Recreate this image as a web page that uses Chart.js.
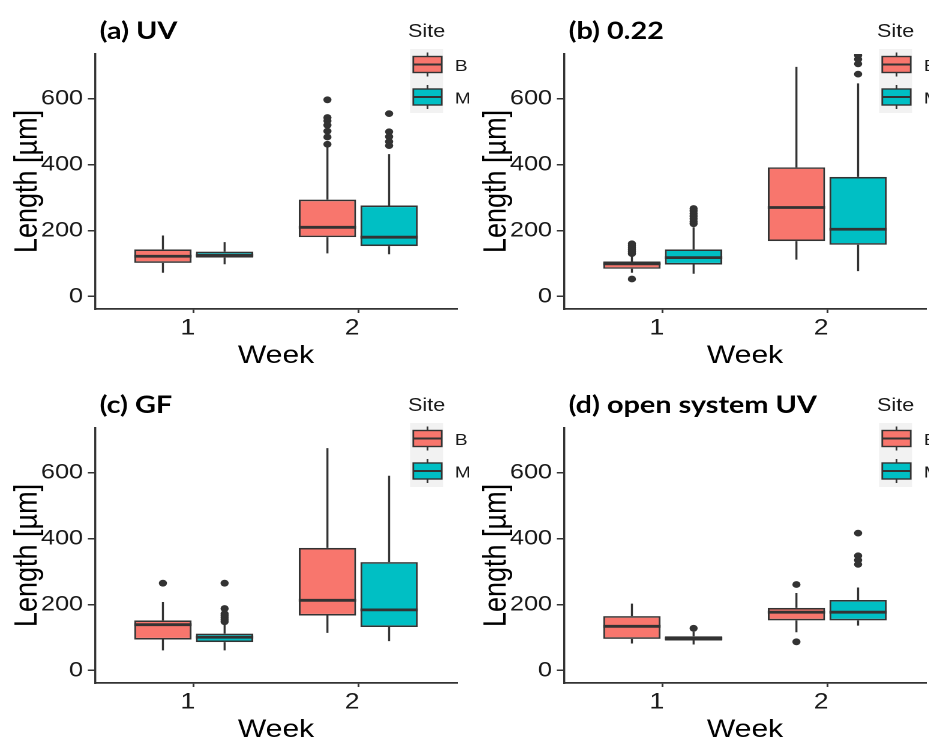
<!DOCTYPE html>
<html>
<head>
<meta charset="utf-8">
<script src="https://cdn.jsdelivr.net/npm/chart.js@4.4.1/dist/chart.umd.min.js"></script>
<style>
  html, body { margin: 0; padding: 0; background: #fff; }
  body { width: 929px; height: 742px; overflow: hidden; position: relative; }
  /* the source figure is stretched ~1.2x horizontally, so each panel is too */
  .panel { position: absolute; width: 391px; height: 374px; transform: scaleX(1.2); transform-origin: 0 0; }
</style>
</head>
<body>
<div class="panel" style="left:0;top:0"><canvas id="c0"></canvas></div>
<div class="panel" style="left:469px;top:0"><canvas id="c1"></canvas></div>
<div class="panel" style="left:0;top:374px"><canvas id="c2"></canvas></div>
<div class="panel" style="left:469px;top:374px"><canvas id="c3"></canvas></div>
<script>
// ------------------- DATA -------------------
const weeks = [1, 2];
const sites = ['B', 'M'];
const siteColors = ['#F8766D', '#00BFC4'];
const panelTitles = ['(a) UV', '(b) 0.22', '(c) GF', '(d) open system UV'];
const yTicks = [0, 200, 400, 600];

// per week: [lower whisker, Q1, median, Q3, upper whisker]
const uvB = [[72, 102, 122, 143, 185], [131, 180, 210, 294, 454]];
const uvM = [[98, 118, 125, 136, 165], [128, 153, 180, 276, 432]];
const uvOutB = [[], [597, 543, 533, 520, 502, 484, 462]];
const uvOutM = [[], [555, 500, 485, 470, 458]];

const f022B = [[72, 84, 99, 106, 124], [112, 168, 270, 392, 697]];
const f022M = [[69, 97, 118, 143, 210], [77, 157, 204, 363, 647]];
const f022OutB = [[53, 130, 136, 142, 148, 154, 160], []];
const f022OutM = [[221, 228, 236, 244, 252, 260, 267], [675, 706, 720, 732]];

const gfB = [[61, 94, 139, 152, 208], [114, 167, 213, 372, 675]];
const gfM = [[61, 86, 101, 112, 140], [89, 132, 184, 329, 591]];
const gfOutB = [[265], []];
const gfOutM = [[148, 154, 160, 166, 172, 188, 265], []];

const openB = [[82, 96, 134, 165, 203], [116, 152, 177, 190, 235]];
const openM = [[79, 91, 97, 104, 118], [136, 152, 177, 214, 252]];
const openOutB = [[], [261, 87]];
const openOutM = [[128], [417, 348, 335, 322]];

const panelStats = [[uvB, uvM], [f022B, f022M], [gfB, gfM], [openB, openM]];
const panelOutliers = [[uvOutB, uvOutM], [f022OutB, f022OutM], [gfOutB, gfOutM], [openOutB, openOutM]];

// ------------------- STYLE -------------------
const DARK = '#333333';
const TEXT = '#1a1a1a';
const CAT_PCT = 0.75;
const BAR_PCT = 0.93;
const DODGE = CAT_PCT / 4;   // centre of each box, in week units, from the tick

// whiskers, medians, legend and panel title
const boxPlugin = {
  id: 'boxWhiskers',
  beforeDatasetsDraw(chart) {
    const ctx = chart.ctx, y = chart.scales.y;
    ctx.save();
    ctx.strokeStyle = DARK;
    ctx.lineWidth = 1.7;
    chart.data.datasets.forEach((ds, i) => {
      if (!ds.stats) return;
      chart.getDatasetMeta(i).data.forEach((el, j) => {
        const st = ds.stats[j];
        ctx.beginPath();
        ctx.moveTo(el.x, y.getPixelForValue(st[0]));
        ctx.lineTo(el.x, y.getPixelForValue(st[1]));
        ctx.moveTo(el.x, y.getPixelForValue(st[3]));
        ctx.lineTo(el.x, y.getPixelForValue(st[4]));
        ctx.stroke();
      });
    });
    ctx.restore();
  },
  afterDatasetsDraw(chart) {
    const ctx = chart.ctx, y = chart.scales.y;
    ctx.save();
    ctx.strokeStyle = DARK;
    ctx.lineWidth = 2.8;
    chart.data.datasets.forEach((ds, i) => {
      if (!ds.stats) return;
      chart.getDatasetMeta(i).data.forEach((el, j) => {
        const py = y.getPixelForValue(ds.stats[j][2]);
        ctx.beginPath();
        ctx.moveTo(el.x - el.width / 2, py);
        ctx.lineTo(el.x + el.width / 2, py);
        ctx.stroke();
      });
    });
    ctx.restore();
  },
  afterDraw(chart, args, opts) {
    const ctx = chart.ctx;
    ctx.save();
    // panel title
    ctx.fillStyle = '#000';
    ctx.font = 'bold 24px Lato';
    ctx.textBaseline = 'alphabetic';
    ctx.textAlign = 'left';
    ctx.fillText(opts.title, 83, 39);

    // legend
    ctx.fillStyle = TEXT;
    ctx.font = '18px "Liberation Sans"';
    ctx.textBaseline = 'middle';
    ctx.fillText('Site', 340, 32);
    ctx.fillStyle = '#F2F2F2';
    ctx.fillRect(341.7, 49, 27.5, 64);
    const keyY = [64.5, 97];
    sites.forEach((s, i) => {
      const cy = keyY[i];
      ctx.strokeStyle = DARK;
      ctx.lineWidth = 1.4;
      ctx.beginPath();
      ctx.moveTo(356.25, cy - 12); ctx.lineTo(356.25, cy - 8);
      ctx.moveTo(356.25, cy + 8); ctx.lineTo(356.25, cy + 12);
      ctx.stroke();
      ctx.fillStyle = siteColors[i];
      ctx.fillRect(344.4, cy - 8, 23.7, 16);
      ctx.strokeRect(344.4, cy - 8, 23.7, 16);
      ctx.lineWidth = 2;
      ctx.beginPath();
      ctx.moveTo(344.4, cy); ctx.lineTo(368.1, cy);
      ctx.stroke();
      ctx.fillStyle = TEXT;
      ctx.font = '16px "Liberation Sans"';
      ctx.fillText(s, 379, cy + 2);
    });
    ctx.restore();
  }
};

function makeChart(id, p) {
  const stats = panelStats[p];
  const outs = panelOutliers[p];
  const datasets = [];

  sites.forEach((s, si) => {
    datasets.push({
      type: 'bar',
      label: s,
      data: weeks.map((w, wi) => ({ x: w, y: [stats[si][wi][1], stats[si][wi][3]] })),
      stats: stats[si],
      backgroundColor: siteColors[si],
      borderColor: DARK,
      borderWidth: 1.6,
      borderSkipped: false,
      categoryPercentage: CAT_PCT,
      barPercentage: BAR_PCT
    });
  });

  sites.forEach((s, si) => {
    const pts = [];
    weeks.forEach((w, wi) => {
      outs[si][wi].forEach(v => pts.push({ x: w + (si === 0 ? -DODGE : DODGE), y: v }));
    });
    datasets.push({
      type: 'scatter',
      label: s + ' outliers',
      data: pts,
      pointRadius: 3.4,
      pointBackgroundColor: DARK,
      pointBorderWidth: 0
    });
  });

  return new Chart(document.getElementById(id), {
    type: 'bar',
    data: { datasets },
    options: {
      responsive: true,
      maintainAspectRatio: false,
      animation: false,
      devicePixelRatio: 2,
      events: [],
      layout: { padding: { left: 0, right: 10.2, top: 54, bottom: 0 } },
      plugins: {
        legend: { display: false },
        tooltip: { enabled: false },
        boxWhiskers: { title: panelTitles[p] }
      },
      scales: {
        x: {
          type: 'linear', min: 0.4, max: 2.6, offset: false,
          afterBuildTicks: s => { s.ticks = weeks.map(v => ({ value: v })); },
          afterFit: s => { s.height = 65; },
          border: { display: true, color: DARK, width: 1.7 },
          grid: { display: true, drawOnChartArea: false, drawTicks: true, tickLength: 4, color: DARK, lineWidth: 1.5, offset: false },
          ticks: { color: TEXT, font: { family: 'Liberation Sans', size: 22 }, padding: 2, labelOffset: -5, maxRotation: 0 },
          title: { display: true, text: 'Week', color: '#000', font: { family: 'Liberation Sans', size: 25 }, padding: { top: 0, bottom: 3 } }
        },
        y: {
          type: 'linear', min: -38, max: 736,
          afterBuildTicks: s => { s.ticks = yTicks.map(v => ({ value: v })); },
          afterFit: s => { s.width = 79.2; },
          border: { display: true, color: DARK, width: 1.7 },
          grid: { display: true, drawOnChartArea: false, drawTicks: true, tickLength: 6, color: DARK, lineWidth: 1.5 },
          ticks: { color: TEXT, font: { family: 'Liberation Sans', size: 21 }, padding: 4 },
          title: { display: true, text: 'Length [µm]', color: '#000', font: { family: 'Liberation Sans', size: 27 }, padding: { top: 7, bottom: 0 } }
        }
      }
    },
    plugins: [boxPlugin]
  });
}

panelTitles.forEach((t, i) => makeChart('c' + i, i));
</script>
</body>
</html>
